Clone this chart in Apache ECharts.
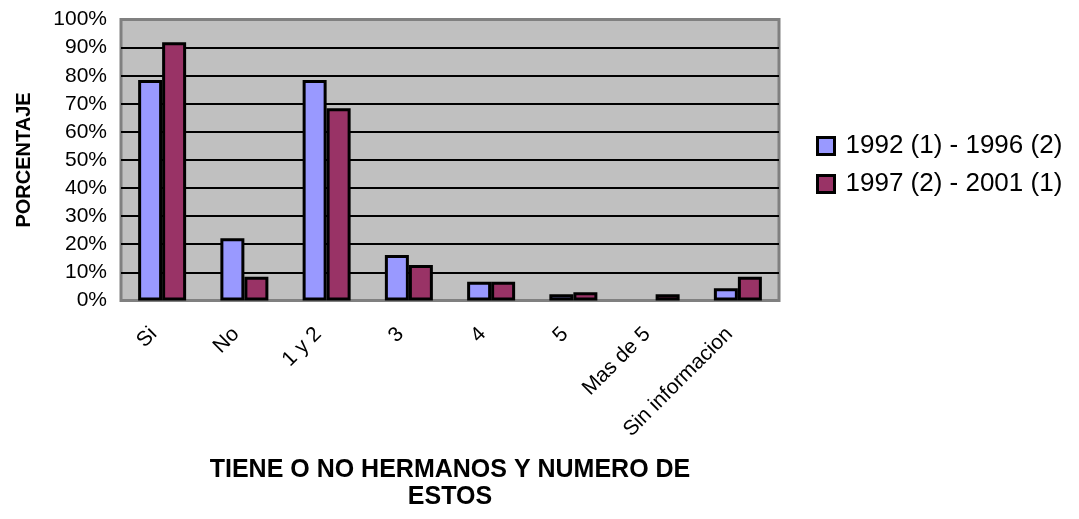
<!DOCTYPE html>
<html>
<head>
<meta charset="utf-8">
<script src="https://cdn.jsdelivr.net/npm/echarts@6/dist/echarts.min.js"></script>
<style>
  html, body { margin: 0; padding: 0; background: #fff; }
  #chart { width: 1079px; height: 519px; }
</style>
</head>
<body>
<div id="chart"></div>
<script>
// categorias y valores (porcentaje)
const categories = ['Si', 'No', '1 y 2', '3', '4', '5', 'Mas de 5', 'Sin informacion']
const seriesNames = ['1992 (1) - 1996 (2)', '1997 (2) - 2001 (1)']
const values1992 = [78.5, 22.1, 78.5, 16.2, 6.6, 2.2, 0, 4.3]
const values1997 = [91.9, 8.4, 68.4, 12.6, 6.6, 2.9, 2.2, 8.4]
const yTicks = [0, 10, 20, 30, 40, 50, 60, 70, 80, 90, 100]

const FONT = 'Arial, "Liberation Sans", sans-serif'

function toData(arr) {
  // barra en cero sin borde
  return arr.map(v => v === 0 ? { value: 0, itemStyle: { borderWidth: 0 }} : v)
}

const chart = echarts.init(document.getElementById('chart'))
chart.setOption({
  animation: false,
  textStyle: { fontFamily: FONT, color: '#000' },
  legend: {
    orient: 'vertical',
    left: 811,
    top: 127,
    itemWidth: 17,
    itemHeight: 17,
    itemGap: 10,
    icon: 'rect',
    itemStyle: { borderColor: '#000', borderWidth: 3 },
    textStyle: { fontSize: 26, lineHeight: 28, color: '#000', fontFamily: FONT, padding: [0, 0, 0, 6] },
    data: seriesNames
  },
  grid: {
    left: 121,
    right: 300,
    top: 19.6,
    bottom: 218.6,
    show: true,
    backgroundColor: '#C0C0C0',
    borderColor: '#808080',
    borderWidth: 3,
    outerBoundsMode: 'none'
  },
  xAxis: {
    type: 'category',
    data: categories,
    name: 'TIENE O NO HERMANOS Y NUMERO DE\nESTOS',
    nameLocation: 'middle',
    nameGap: 156,
    nameTextStyle: { fontSize: 25, fontWeight: 'bold', lineHeight: 27, color: '#000', fontFamily: FONT },
    axisLine: { show: false },
    axisTick: { show: false },
    axisLabel: {
      rotate: 45,
      margin: 22,
      interval: 0,
      fontSize: 21,
      color: '#000',
      fontFamily: FONT,
      padding: [0, 12, 0, 0]
    }
  },
  yAxis: {
    type: 'value',
    min: yTicks[0],
    max: yTicks[yTicks.length - 1],
    interval: 10,
    name: 'PORCENTAJE',
    nameLocation: 'middle',
    nameRotate: 90,
    nameGap: 87,
    nameTextStyle: { fontSize: 20, fontWeight: 'bold', color: '#000', fontFamily: FONT },
    axisLine: { show: false },
    axisTick: { show: false },
    axisLabel: {
      margin: 14,
      fontSize: 21,
      color: '#000',
      fontFamily: FONT,
      formatter: '{value}%'
    },
    splitLine: {
      show: true,
      showMinLine: false,
      showMaxLine: false,
      lineStyle: { color: '#000', width: 2 }
    }
  },
  series: [
    {
      name: seriesNames[0],
      type: 'bar',
      barWidth: 24,
      barGap: '0%',
      itemStyle: { color: '#9999FF', borderColor: '#000', borderWidth: 3 },
      data: toData(values1992)
    },
    {
      name: seriesNames[1],
      type: 'bar',
      barWidth: 24,
      barGap: '0%',
      itemStyle: { color: '#993366', borderColor: '#000', borderWidth: 3 },
      data: toData(values1997)
    }
  ]
})
</script>
</body>
</html>
